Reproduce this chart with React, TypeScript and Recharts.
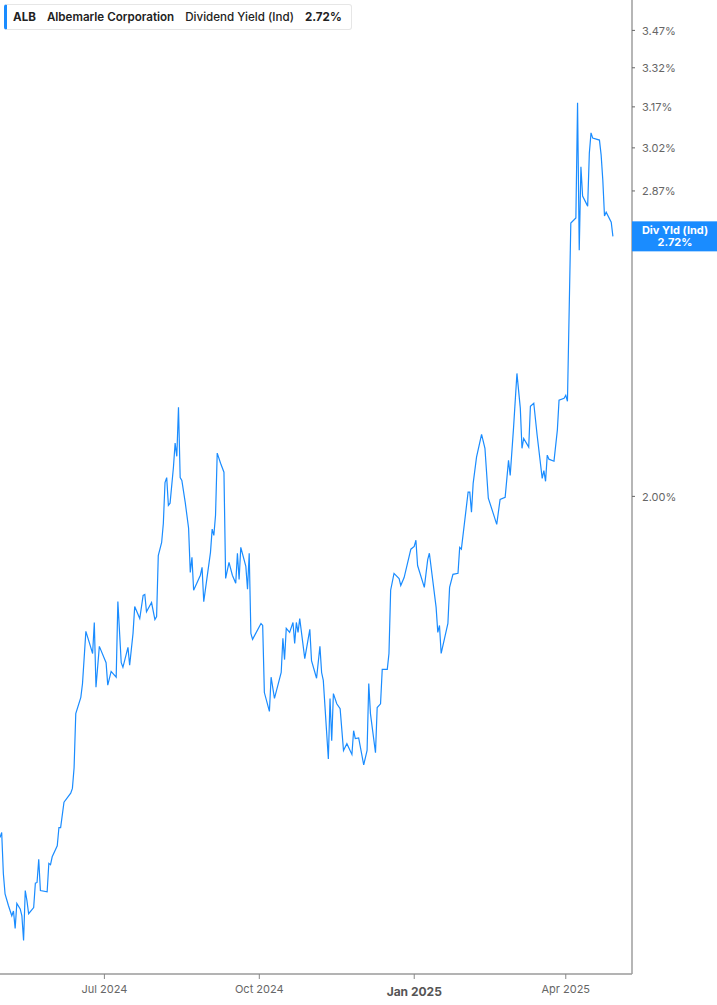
import React from "react";
import { LineChart, Line, XAxis, YAxis } from "recharts";

// ALB dividend yield (indicated), daily closes
const dates = [
  "2024-04-30", "2024-05-01", "2024-05-02", "2024-05-03", "2024-05-05", "2024-05-07", "2024-05-08", "2024-05-09",
  "2024-05-10", "2024-05-12", "2024-05-13", "2024-05-14", "2024-05-15", "2024-05-16", "2024-05-17", "2024-05-20",
  "2024-05-21", "2024-05-22", "2024-05-23", "2024-05-24", "2024-05-28", "2024-05-29", "2024-05-30", "2024-05-31",
  "2024-06-03", "2024-06-04", "2024-06-05", "2024-06-07", "2024-06-11", "2024-06-12", "2024-06-13", "2024-06-14",
  "2024-06-17", "2024-06-18", "2024-06-20", "2024-06-22", "2024-06-24", "2024-06-25", "2024-06-26", "2024-06-28",
  "2024-07-02", "2024-07-03", "2024-07-05", "2024-07-08", "2024-07-09", "2024-07-11", "2024-07-12", "2024-07-15",
  "2024-07-16", "2024-07-18", "2024-07-19", "2024-07-22", "2024-07-24", "2024-07-25", "2024-07-26", "2024-07-29",
  "2024-07-31",
  "2024-08-01", "2024-08-02", "2024-08-04", "2024-08-05", "2024-08-06", "2024-08-07", "2024-08-08", "2024-08-09",
  "2024-08-11", "2024-08-12", "2024-08-13", "2024-08-14", "2024-08-15", "2024-08-16", "2024-08-18", "2024-08-20",
  "2024-08-21", "2024-08-22", "2024-08-23", "2024-08-27", "2024-08-28", "2024-08-29",
  "2024-09-02", "2024-09-03", "2024-09-04", "2024-09-05", "2024-09-06", "2024-09-08", "2024-09-10", "2024-09-11",
  "2024-09-13", "2024-09-15", "2024-09-17", "2024-09-18", "2024-09-19", "2024-09-20", "2024-09-23", "2024-09-24",
  "2024-09-25", "2024-09-26", "2024-09-27",
  "2024-10-02", "2024-10-03", "2024-10-04", "2024-10-07", "2024-10-08", "2024-10-10", "2024-10-14", "2024-10-15",
  "2024-10-16", "2024-10-17", "2024-10-19", "2024-10-21", "2024-10-22", "2024-10-23", "2024-10-24", "2024-10-25",
  "2024-10-28", "2024-10-31",
  "2024-11-01", "2024-11-04", "2024-11-06", "2024-11-07", "2024-11-08", "2024-11-11", "2024-11-12", "2024-11-13",
  "2024-11-14", "2024-11-16", "2024-11-18", "2024-11-20", "2024-11-22", "2024-11-25", "2024-11-26", "2024-11-27",
  "2024-11-29",
  "2024-12-02", "2024-12-04", "2024-12-05", "2024-12-06", "2024-12-09", "2024-12-10", "2024-12-12", "2024-12-13",
  "2024-12-16", "2024-12-17", "2024-12-18", "2024-12-20", "2024-12-23", "2024-12-24", "2024-12-26", "2024-12-30",
  "2025-01-01", "2025-01-02", "2025-01-03", "2025-01-07", "2025-01-09", "2025-01-10", "2025-01-14", "2025-01-15",
  "2025-01-16", "2025-01-17", "2025-01-21", "2025-01-22", "2025-01-24", "2025-01-27", "2025-01-28", "2025-01-29",
  "2025-02-02", "2025-02-03", "2025-02-04", "2025-02-05", "2025-02-07", "2025-02-10", "2025-02-12", "2025-02-14",
  "2025-02-19", "2025-02-21", "2025-02-24", "2025-02-26", "2025-02-27",
  "2025-03-01", "2025-03-03", "2025-03-05", "2025-03-06", "2025-03-07", "2025-03-10", "2025-03-11", "2025-03-13",
  "2025-03-15", "2025-03-18", "2025-03-19", "2025-03-20", "2025-03-21", "2025-03-22", "2025-03-25", "2025-03-27",
  "2025-03-28", "2025-03-31",
  "2025-04-01", "2025-04-02", "2025-04-04", "2025-04-07", "2025-04-08", "2025-04-09", "2025-04-10", "2025-04-11",
  "2025-04-14", "2025-04-15", "2025-04-16", "2025-04-17", "2025-04-21", "2025-04-22", "2025-04-23", "2025-04-24",
  "2025-04-25", "2025-04-28", "2025-04-29",
];

const yields = [
  1.336, 1.344, 1.280, 1.250, 1.233, 1.218, 1.225, 1.200,
  1.236, 1.228, 1.218, 1.183, 1.255, 1.240, 1.221, 1.230,
  1.266, 1.267, 1.302, 1.255, 1.253, 1.296, 1.294, 1.306,
  1.323, 1.352, 1.352, 1.393, 1.408, 1.416, 1.451, 1.547,
  1.577, 1.603, 1.705, 1.683, 1.661, 1.723, 1.596, 1.675,
  1.643, 1.600, 1.626, 1.615, 1.766, 1.643, 1.634, 1.673,
  1.638, 1.701, 1.756, 1.731, 1.779, 1.781, 1.745, 1.764,
  1.729,
  1.735, 1.865, 1.894, 1.937, 2.033, 2.045, 1.979, 1.984,
  2.070, 2.130, 2.097, 2.222, 2.045, 2.038, 1.986, 1.926,
  1.828, 1.861, 1.790, 1.822, 1.839, 1.766,
  1.872, 1.924, 1.910, 1.956, 2.105, 2.080, 2.058, 1.815,
  1.850, 1.822, 1.805, 1.870, 1.813, 1.883, 1.841, 1.792,
  1.870, 1.701, 1.689,
  1.721, 1.717, 1.586, 1.551, 1.615, 1.575, 1.624, 1.691,
  1.649, 1.711, 1.703, 1.723, 1.681, 1.723, 1.703, 1.731,
  1.651, 1.709,
  1.647, 1.613, 1.675, 1.624, 1.609, 1.466, 1.575, 1.498,
  1.584, 1.565, 1.556, 1.481, 1.493, 1.474, 1.516, 1.502,
  1.503,
  1.456, 1.481, 1.603, 1.547, 1.477, 1.558, 1.565, 1.630,
  1.630, 1.661, 1.790, 1.826, 1.815, 1.800, 1.817, 1.879,
  1.885, 1.899, 1.843, 1.796, 1.856, 1.870, 1.754, 1.703,
  1.717, 1.661, 1.721, 1.796, 1.824, 1.826, 1.883, 1.879,
  2.010, 2.010, 1.963, 2.031, 2.095, 2.152, 2.117, 1.996,
  1.935, 1.993, 1.998, 2.087, 2.050,
  2.170, 2.313, 2.220, 2.117, 2.142, 2.120, 2.225, 2.233,
  2.150, 2.043, 2.062, 2.036, 2.100, 2.090, 2.085, 2.163,
  2.241, 2.246,
  2.254, 2.238, 2.763, 2.780, 3.185, 2.676, 2.953, 2.853,
  2.819, 3.002, 3.074, 3.055, 3.048, 2.995, 2.907, 2.786,
  2.799, 2.766, 2.720,
];

const yTicks = [2.0, 2.72, 2.87, 3.02, 3.17, 3.32, 3.47];
const lastYield = 2.72;

const xTickDates = ["2024-07-01", "2024-10-01", "2025-01-01", "2025-04-01"];
const xTickLabels = ["Jul 2024", "Oct 2024", "Jan 2025", "Apr 2025"];

const BLUE = "#1a8cff";
const FONT = "Inter, 'Noto Sans', sans-serif";

const toTs = (d: string) => Date.parse(d + "T00:00:00Z");

const data = dates.map((d, i) => ({ t: toTs(d), value: yields[i] }));
const xTicks = xTickDates.map(toTs);
const xDomain = [toTs("2024-04-30"), toTs("2025-05-10") + 8 * 3600 * 1000];

function XTick(props: any) {
  const { x, y, payload } = props;
  const idx = xTicks.indexOf(payload.value);
  const label = xTickLabels[idx] ?? "";
  const isYear = label.startsWith("Jan");
  return (
    <text
      x={x}
      y={y}
      dy={isYear ? 15 : 12}
      textAnchor="middle"
      fontFamily={FONT}
      fontSize={isYear ? 12 : 11}
      fontWeight={isYear ? 700 : 400}
      fill={isYear ? "#555" : "#666"}
    >
      {label}
    </text>
  );
}

function YTick(props: any) {
  const { x, y, payload } = props;
  if (payload.value === lastYield) {
    return (
      <g>
        <rect x={x - 10} y={y - 15} width={85} height={30} fill={BLUE} />
        <text x={x + 33} y={y - 2} textAnchor="middle" fontFamily={FONT} fontSize={11} fontWeight={700} fill="#fff">
          Div Yld (Ind)
        </text>
        <text x={x + 33} y={y + 10} textAnchor="middle" fontFamily={FONT} fontSize={11} fontWeight={700} fill="#fff">
          {lastYield.toFixed(2)}%
        </text>
      </g>
    );
  }
  return (
    <text x={x} y={y} dy={4.5} textAnchor="start" fontFamily={FONT} fontSize={11} fill="#666">
      {payload.value.toFixed(2)}%
    </text>
  );
}

export default function App() {
  return (
    <div style={{ position: "absolute", left: 0, top: 0, width: 717, height: 1005, background: "#fff" }}>
      <LineChart width={717} height={1005} data={data} margin={{ top: 0, right: 0, left: 0, bottom: 0 }}>
        <XAxis
          dataKey="t"
          type="number"
          domain={xDomain}
          allowDataOverflow
          ticks={xTicks}
          interval={0}
          height={31}
          tick={<XTick />}
          tickSize={5}
          tickMargin={2}
          axisLine={{ stroke: "#b3b3b3", strokeWidth: 2 }}
          tickLine={{ stroke: "#888" }}
        />
        <YAxis
          orientation="right"
          scale="log"
          domain={[1.137, 3.597]}
          allowDataOverflow
          ticks={yTicks}
          interval={0}
          width={85}
          tick={<YTick />}
          tickSize={3}
          tickMargin={7}
          axisLine={{ stroke: "#9e9e9e", strokeWidth: 1.5 }}
          tickLine={{ stroke: "#666" }}
        />
        <Line
          type="linear"
          dataKey="value"
          stroke={BLUE}
          strokeWidth={1.2}
          dot={false}
          activeDot={false}
          isAnimationActive={false}
        />
      </LineChart>
      <div
        style={{
          position: "absolute",
          left: 4,
          top: 4,
          width: 338,
          height: 24,
          background: "#fff",
          border: "1px solid #e6e6e6",
          borderLeft: `3px solid ${BLUE}`,
          borderRadius: 3,
          display: "flex",
          alignItems: "center",
          paddingLeft: 6,
          fontFamily: FONT,
          fontSize: 11.6,
          color: "#222",
          whiteSpace: "nowrap",
        }}
      >
        <span style={{ fontWeight: 700, marginRight: 11 }}>ALB</span>
        <span style={{ fontWeight: 600, marginRight: 11 }}>Albemarle Corporation</span>
        <span style={{ fontWeight: 500, marginRight: 11 }}>Dividend Yield (Ind)</span>
        <span style={{ fontWeight: 700 }}>{lastYield.toFixed(2)}%</span>
      </div>
    </div>
  );
}
